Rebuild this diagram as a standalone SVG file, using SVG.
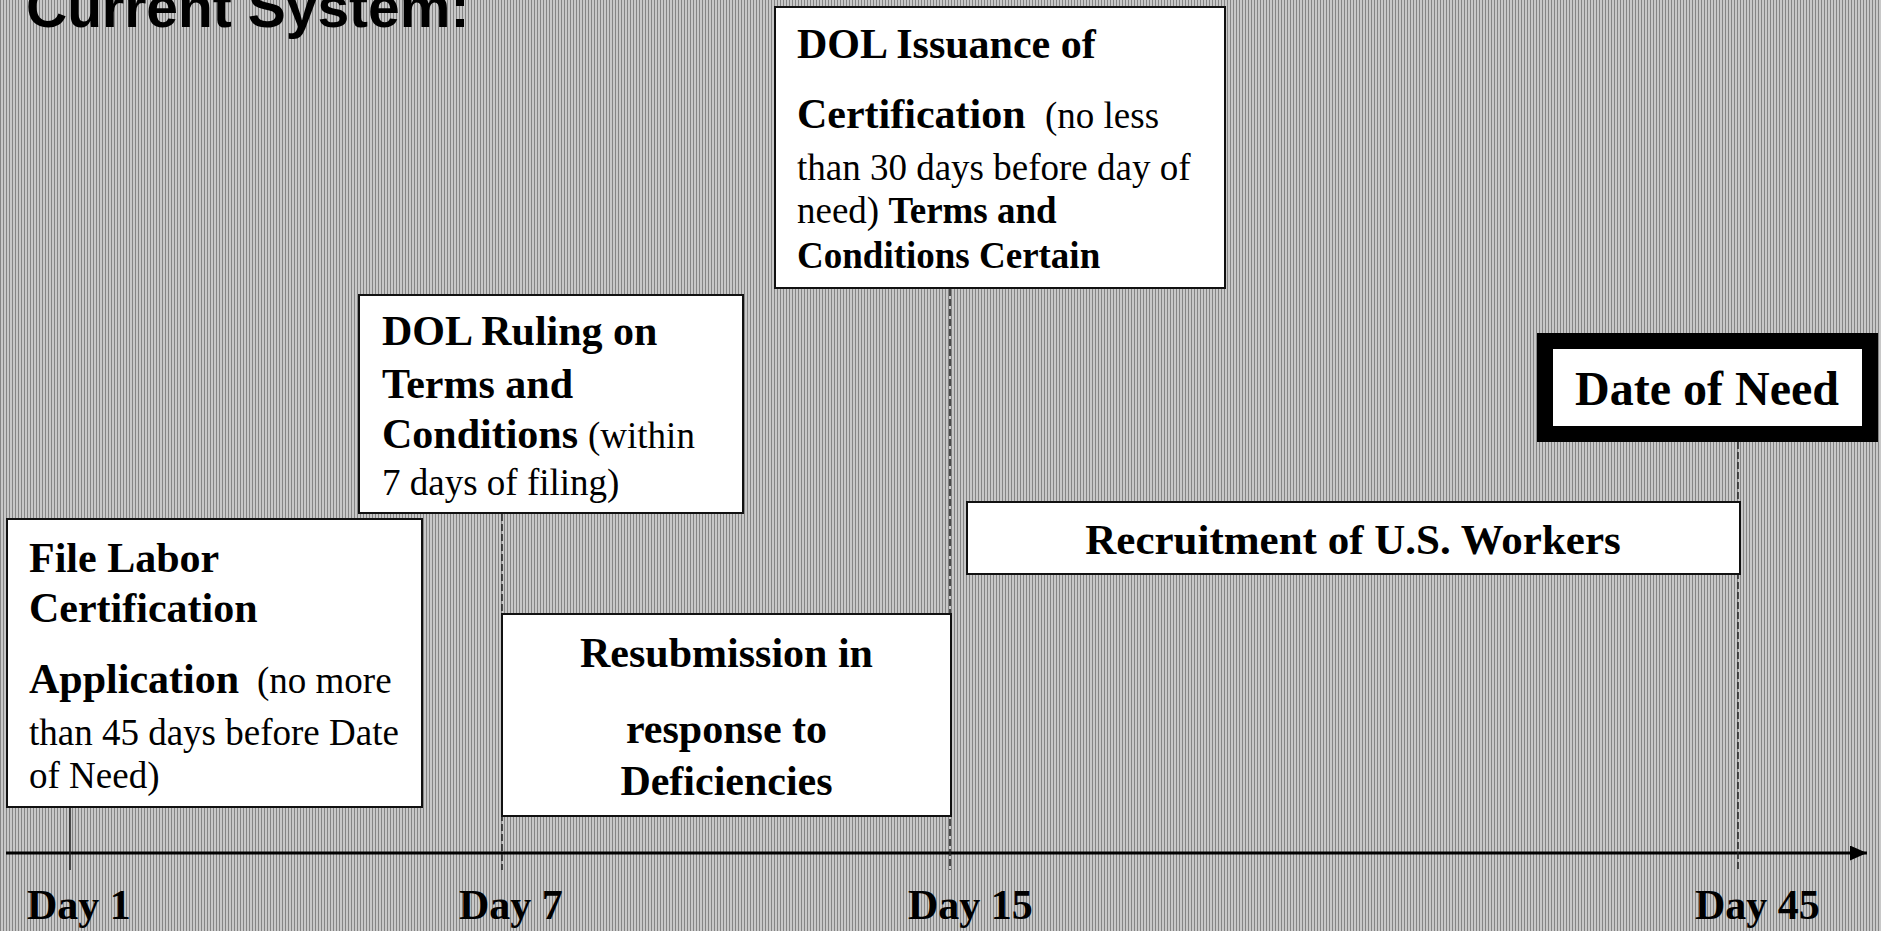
<svg xmlns="http://www.w3.org/2000/svg" width="1881" height="931" viewBox="0 0 1881 931">
<defs>
<pattern id="hatch" width="3" height="3" patternUnits="userSpaceOnUse">
<rect width="3" height="3" fill="#c8c8c8"/>
<rect x="0" width="1" height="3" fill="#858585"/>
</pattern>
<marker id="arrow" markerWidth="17" markerHeight="15" refX="17" refY="7.5" orient="auto" markerUnits="userSpaceOnUse"><path d="M0,0 L17,7.5 L0,15 Z" fill="#000"/></marker>
</defs>
<style>
.box{fill:#fff;stroke:#111;stroke-width:2}
.t{font-family:"Liberation Serif","Times New Roman",serif;font-weight:bold;font-size:42px;fill:#000}
.r{font-weight:normal;font-size:37px}
.s{font-size:37px}
.c{text-anchor:middle}
.guide{stroke:#222;stroke-width:1.5;stroke-dasharray:7 3;fill:none}
.solid{stroke:#222;stroke-width:1.5;fill:none}
.axis{stroke:#000;stroke-width:3;fill:none}
.title{font-family:"Liberation Sans",Arial,sans-serif;font-weight:bold;font-size:57px;fill:#000}
</style>
<rect width="1881" height="931" fill="url(#hatch)"/>
<text class="title" x="26" y="27">Current System:</text>

<g id="connectors">
<line class="axis" x1="6" y1="853" x2="1867" y2="853" marker-end="url(#arrow)"/>
<line class="solid" x1="70" y1="808" x2="70" y2="870"/>
<line class="guide" x1="502" y1="514" x2="502" y2="870"/>
<line class="guide" x1="950" y1="289" x2="950" y2="870"/>
<line class="guide" x1="1738" y1="442" x2="1738" y2="870"/>
</g>

<g id="file-labor">
<rect class="box" x="7" y="519" width="415" height="288"/>
<text class="t" x="29" y="572">File Labor</text>
<text class="t" x="29" y="622">Certification</text>
<text class="t" x="29" y="693">Application<tspan class="r" x="257">(no more</tspan></text>
<text class="t r" x="29" y="745">than 45 days before Date</text>
<text class="t r" x="29" y="788">of Need)</text>
</g>

<g id="dol-ruling">
<rect class="box" x="359" y="295" width="384" height="218"/>
<text class="t" x="382" y="345">DOL Ruling on</text>
<text class="t" x="382" y="398">Terms and</text>
<text class="t" x="382" y="448">Conditions<tspan class="r" x="588">(within</tspan></text>
<text class="t r" x="382" y="495">7 days of filing)</text>
</g>

<g id="dol-issuance">
<rect class="box" x="775" y="7" width="450" height="281"/>
<text class="t" x="797" y="58">DOL Issuance of</text>
<text class="t" x="797" y="128">Certification<tspan class="r" x="1045">(no less</tspan></text>
<text class="t r" x="797" y="180">than 30 days before day of</text>
<text class="t s" x="797" y="223"><tspan class="r">need) </tspan>Terms and</text>
<text class="t s" x="797" y="268">Conditions Certain</text>
</g>

<g id="resubmission">
<rect class="box" x="502" y="614" width="449" height="202"/>
<text class="t c" x="726.5" y="667">Resubmission in</text>
<text class="t c" x="726.5" y="743">response to</text>
<text class="t c" x="726.5" y="795">Deficiencies</text>
</g>

<g id="recruitment">
<rect class="box" x="967" y="502" width="773" height="72"/>
<text class="t c" x="1353" y="554" style="font-size:43px">Recruitment of U.S. Workers</text>
</g>

<g id="date-of-need">
<rect x="1545" y="341" width="325" height="93" fill="#fff" stroke="#000" stroke-width="16"/>
<text class="t c" x="1707" y="405" style="font-size:48px">Date of Need</text>
</g>

<g id="day-labels">
<text class="t" x="27" y="919">Day 1</text>
<text class="t" x="459" y="919">Day 7</text>
<text class="t" x="908" y="919">Day 15</text>
<text class="t" x="1695" y="919">Day 45</text>
</g>
</svg>
